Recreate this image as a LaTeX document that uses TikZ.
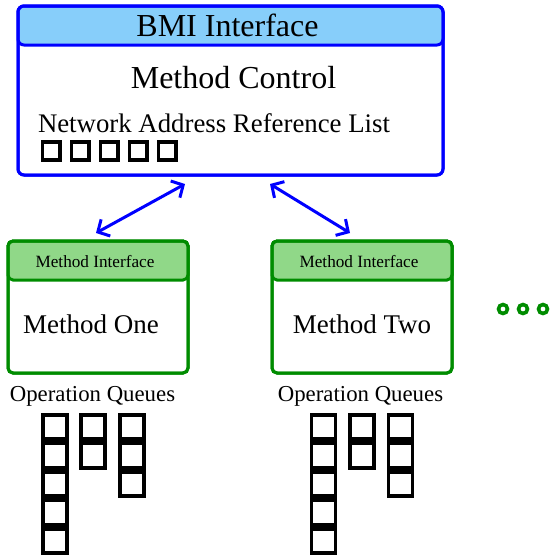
\documentclass[tikz,border=0pt]{standalone}
\usepackage{fontspec}
\setmainfont{Liberation Serif}
\usetikzlibrary{arrows.meta}
\definecolor{hdrblue}{RGB}{135,206,250}
\definecolor{dkgreen}{RGB}{0,140,0}
\definecolor{ltgreen}{RGB}{144,216,136}
\tikzset{
  bluebox/.style={draw=blue, line width=3pt, rounded corners=6pt},
  greenbox/.style={draw=dkgreen, line width=3pt, rounded corners=5pt},
  slot/.style={draw=black, line width=3.5pt, minimum width=17.5pt, minimum height=18pt, inner sep=0pt},
  qslot/.style={draw=black, line width=3.6pt, minimum width=24pt, minimum height=24.5pt, inner sep=0pt},
  dot/.style={draw=dkgreen, line width=3.6pt, circle, minimum size=9pt, inner sep=0pt},
  link/.style={draw=blue, line width=3pt, {Straight Barb[length=9pt,width=19pt]}-{Straight Barb[length=9pt,width=19pt]}},
  lbl/.style={inner sep=0pt, anchor=base}
}
\begin{document}
\begin{tikzpicture}[x=1pt,y=-1pt]
\useasboundingbox (0,0) rectangle (556,558);
% top box
\path[bluebox, fill=white] (18,6) rectangle (443,175);
\path[bluebox, fill=hdrblue] (18,6) rectangle (443,45);
\node (top) [bluebox, minimum width=425pt, minimum height=169pt, inner sep=0pt] at (230.5,90.5) {};
\node[lbl, font=\fontsize{32}{34}\selectfont] (bmi) at (227.5,36.5) {BMI Interface};
\node[lbl, font=\fontsize{32}{34}\selectfont] (mc) at (233.5,88) {Method Control};
\node[lbl, font=\fontsize{26.8}{28}\selectfont] (nar) at (214,132) {Network Address Reference List};
\foreach \i in {0,...,4} \node[slot] (s\i) at (51+29*\i,151) {};
% green boxes
\foreach \n/\x/\t/\dx in {one/8/Method One/-7, two/272/Method Two/0}{
  \path[greenbox, fill=white] (\x,241) rectangle (\x+180,373);
  \path[greenbox, fill=ltgreen] (\x,241) rectangle (\x+180,280);
  \node (\n) [greenbox, minimum width=180pt, minimum height=132pt, inner sep=0pt] at (\x+90,307) {};
  \node[lbl, font=\fontsize{17.2}{19}\selectfont] at (\x+87,267) {Method Interface};
  \node[lbl, font=\fontsize{27}{29}\selectfont] at (\x+90+\dx,333) {\t};
}
% connectors
\coordinate (a1) at (185,184); \coordinate (b1) at (96,233);
\coordinate (a2) at (270,184); \coordinate (b2) at (350,233);
\draw[link] (a1) -- (b1);
\draw[link] (a2) -- (b2);
% ellipsis
\foreach \i in {0,1,2} \node[dot] (d\i) at (503+20*\i,309) {};
% operation queues
\node[lbl, font=\fontsize{22.8}{24}\selectfont] (oq1) at (92.5,401) {Operation Queues};
\node[lbl, font=\fontsize{22.8}{24}\selectfont] (oq2) at (360.5,401) {Operation Queues};
\foreach \bx/\q in {54.7/l, 323.5/r}{
  \foreach \r in {0,...,4} \node[qslot] (\q a\r) at (\bx,427+28.5*\r) {};
  \foreach \r in {0,1} \node[qslot] (\q b\r) at (\bx+38.5,427+28.5*\r) {};
  \foreach \r in {0,1,2} \node[qslot] (\q c\r) at (\bx+77,427+28.5*\r) {};
}
\end{tikzpicture}
\end{document}
